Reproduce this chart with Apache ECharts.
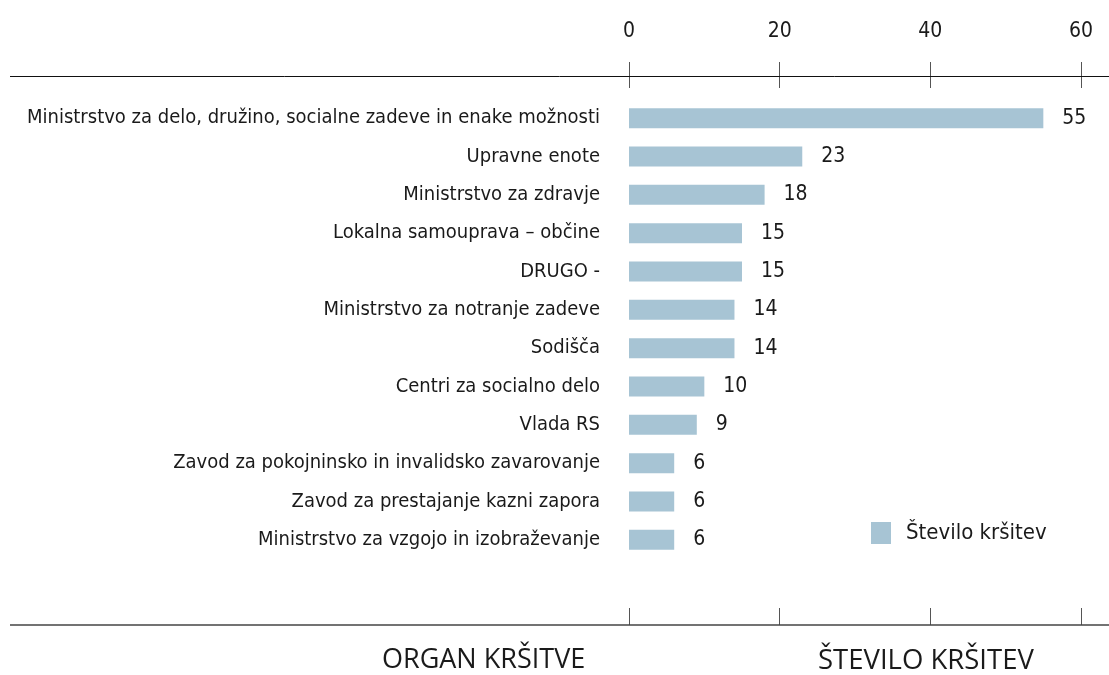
<!DOCTYPE html>
<html lang="sl">
<head>
    <meta charset="UTF-8">
    <title>Organ kršitve</title>
    <style>
        html, body { margin: 0; padding: 0; background: #fff; }
        #main { width: 1109px; height: 675px; }
    </style>
    <script src="https://cdn.jsdelivr.net/npm/echarts@6/dist/echarts.min.js"></script>
</head>
<body>
<div id="main"></div>
<script>
    // kategorije in vrednosti (od zgoraj navzdol)
    var organi = [
        'Ministrstvo za delo, družino, socialne zadeve in enake možnosti',
        'Upravne enote',
        'Ministrstvo za zdravje',
        'Lokalna samouprava – občine',
        'DRUGO -',
        'Ministrstvo za notranje zadeve',
        'Sodišča',
        'Centri za socialno delo',
        'Vlada RS',
        'Zavod za pokojninsko in invalidsko zavarovanje',
        'Zavod za prestajanje kazni zapora',
        'Ministrstvo za vzgojo in izobraževanje'
    ];
    var stevilo = [55, 23, 18, 15, 15, 14, 14, 10, 9, 6, 6, 6];
    var imeSerije = 'Število kršitev';
    var naslovLevo = 'ORGAN KRŠITVE';
    var naslovDesno = 'ŠTEVILO KRŠITEV';

    var font = 'DejaVu Sans Condensed';
    var chart = echarts.init(document.getElementById('main'));

    var option = {
        animation: false,
        textStyle: { fontFamily: font },
        grid: { left: 629, right: 28, top: 99, bottom: 116 },
        legend: {
            left: 871,
            top: 522,
            padding: 0,
            itemWidth: 20,
            itemHeight: 22,
            icon: 'rect',
            textStyle: { fontFamily: font, fontSize: 22, color: '#1a1a1a', padding: [0, 0, 0, 10] },
            data: [imeSerije]
        },
        xAxis: [
            {
                type: 'value',
                position: 'top',
                offset: 11,
                min: 0,
                max: 60,
                interval: 20,
                axisLine: { show: false },
                axisTick: { show: true, length: 26, lineStyle: { color: '#555', width: 1 } },
                axisLabel: { margin: 46, fontSize: 21, color: '#1a1a1a', fontFamily: font },
                splitLine: { show: false }
            },
            {
                type: 'value',
                position: 'bottom',
                offset: 66,
                min: 0,
                max: 60,
                interval: 20,
                axisLine: { show: false },
                axisTick: { show: true, inside: true, length: 17, lineStyle: { color: '#555', width: 1 } },
                axisLabel: { show: false },
                splitLine: { show: false }
            }
        ],
        yAxis: {
            type: 'category',
            inverse: true,
            data: organi,
            axisLine: { show: false },
            axisTick: { show: false },
            axisLabel: { margin: 29, fontSize: 20, color: '#1a1a1a', fontFamily: font }
        },
        series: [{
            name: imeSerije,
            type: 'bar',
            xAxisIndex: 0,
            barWidth: 20,
            itemStyle: { color: '#a7c4d4' },
            label: {
                show: true,
                position: 'right',
                distance: 19,
                fontSize: 21,
                color: '#1a1a1a',
                fontFamily: font
            },
            data: stevilo
        }],
        graphic: [
            { type: 'line', shape: { x1: 10, y1: 76.5, x2: 1109, y2: 76.5 }, style: { stroke: '#111', lineWidth: 1 }, z: 10 },
            { type: 'line', shape: { x1: 10, y1: 625, x2: 1109, y2: 625 }, style: { stroke: '#444', lineWidth: 1.5 }, z: 10 },
            { type: 'text', left: 382, top: 647, style: { text: naslovLevo, font: '27px "Open Sans"', fill: '#1a1a1a' } },
            { type: 'text', left: 818, top: 647, style: { text: naslovDesno, font: '27.5px "Open Sans"', fill: '#1a1a1a' } }
        ]
    };
    chart.setOption(option);
</script>
</body>
</html>
